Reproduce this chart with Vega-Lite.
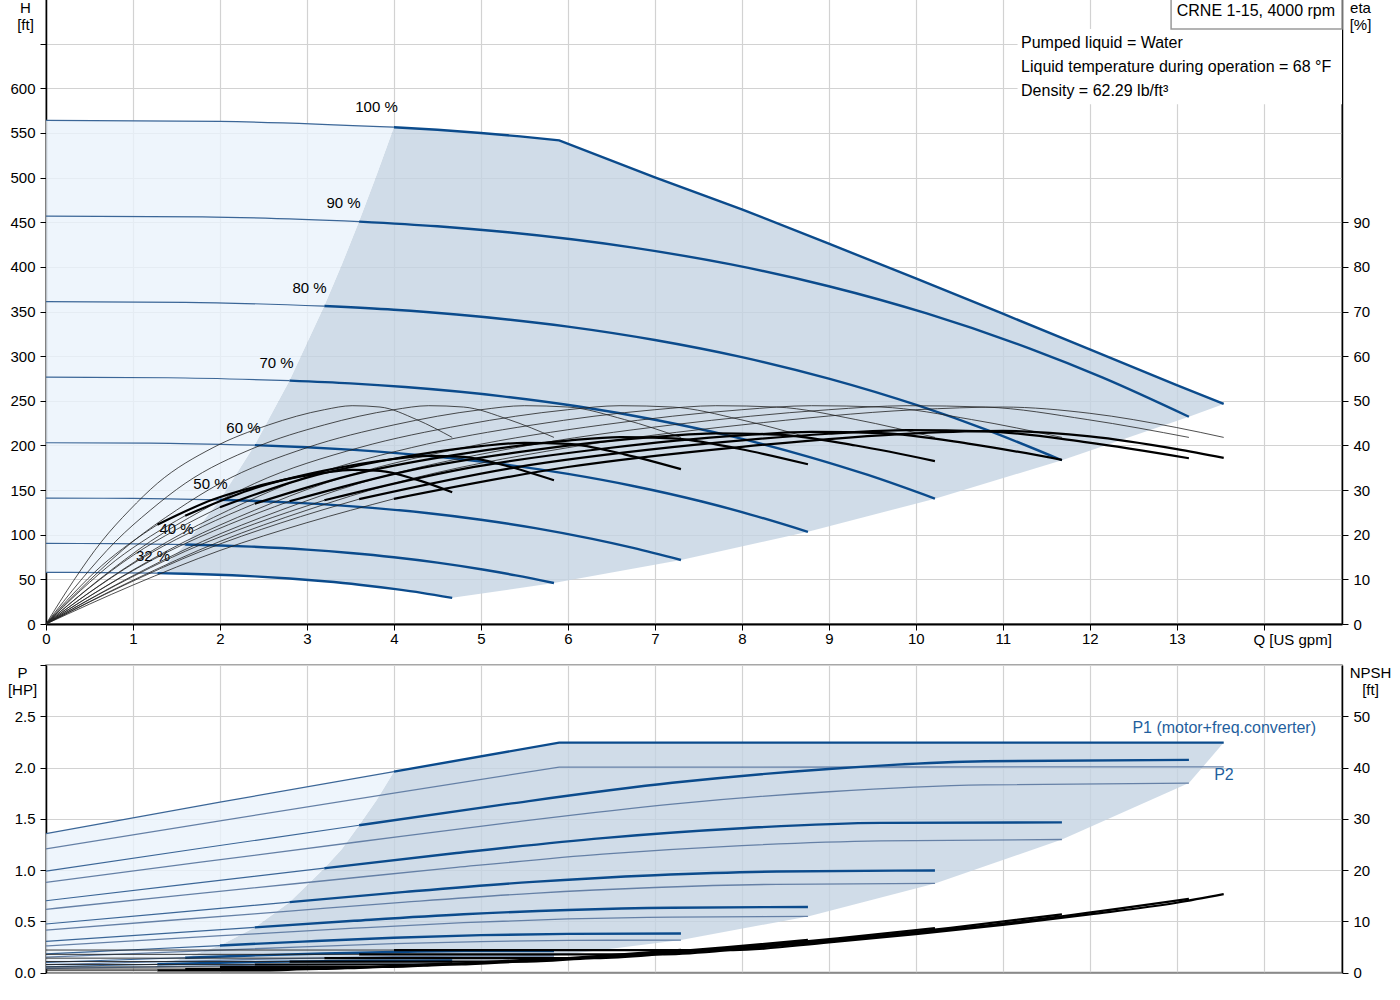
{
  "$schema": "https://vega.github.io/schema/vega-lite/v6.json",
  "autosize": {"type": "pad"},
  "padding": {"left": 6, "top": -3, "right": 5, "bottom": 5},
  "spacing": 41,
  "bounds": "flush",
  "config": {
    "font": "Liberation Sans",
    "view": {"stroke": "#8a8a8a", "strokeWidth": 1.5},
    "axis": {
      "labelFont": "Liberation Sans", "labelFontSize": 15, "labelColor": "#000",
      "titleFont": "Liberation Sans", "titleFontSize": 15, "titleFontWeight": "normal", "titleColor": "#000",
      "gridColor": "#d2d2d2", "gridWidth": 1.2, "tickColor": "#000", "domainColor": "#000",
      "tickSize": 6, "labelPadding": 5, "domainWidth": 1.5
    },
    "text": {"font": "Liberation Sans", "fontSize": 15}
  },
  "datasets": {
    "hd": [
      {"Q": 1.29, "H": 57.9, "H2": 57.9}, {"Q": 1.6, "H": 89.1, "H2": 56.3}, {"Q": 2.0, "H": 139.2, "H2": 55.1},
      {"Q": 2.4, "H": 200.4, "H2": 53.3}, {"Q": 2.8, "H": 272.8, "H2": 50.9}, {"Q": 3.2, "H": 356.4, "H2": 47.8},
      {"Q": 3.4, "H": 402.3, "H2": 46.0}, {"Q": 3.6, "H": 451.0, "H2": 44.0}, {"Q": 3.8, "H": 502.5, "H2": 41.7},
      {"Q": 4.0, "H": 556.4, "H2": 39.3}, {"Q": 4.67, "H": 552.3, "H2": 29.3}, {"Q": 5.84, "H": 542.2, "H2": 45.9},
      {"Q": 5.9, "H": 541.6, "H2": 47.0}, {"Q": 7.3, "H": 489.6, "H2": 71.7}, {"Q": 8.76, "H": 435.2, "H2": 103.2},
      {"Q": 10.22, "H": 378.3, "H2": 140.4}, {"Q": 11.68, "H": 320.3, "H2": 183.4}, {"Q": 13.14, "H": 262.1, "H2": 232.1},
      {"Q": 13.54, "H": 246.5, "H2": 246.5}
    ],
    "hl": [
      {"Q": 0, "H": 564, "H2": 57.8}, {"Q": 0.64, "H": 563.9, "H2": 57.6}, {"Q": 1.29, "H": 563.7, "H2": 57.9},
      {"Q": 1.6, "H": 563.4, "H2": 89.1}, {"Q": 2.0, "H": 562.9, "H2": 139.2}, {"Q": 2.4, "H": 562.2, "H2": 200.4},
      {"Q": 2.8, "H": 561.2, "H2": 272.8}, {"Q": 3.2, "H": 559.9, "H2": 356.4}, {"Q": 3.4, "H": 559.2, "H2": 402.3},
      {"Q": 3.6, "H": 558.3, "H2": 451.0}, {"Q": 3.8, "H": 557.4, "H2": 502.5}, {"Q": 4.0, "H": 556.4, "H2": 556.4}
    ],
    "hc": [
      {"s": "100", "p": "a", "Q": 0, "H": 564}, {"s": "100", "p": "a", "Q": 2, "H": 562.9}, {"s": "100", "p": "a", "Q": 4, "H": 556.4},
      {"s": "100", "p": "b", "Q": 4, "H": 556.4}, {"s": "100", "p": "b", "Q": 4.5, "H": 553.5}, {"s": "100", "p": "b", "Q": 5, "H": 549.9},
      {"s": "100", "p": "b", "Q": 5.45, "H": 546.1}, {"s": "100", "p": "b", "Q": 5.9, "H": 541.6},
      {"s": "100", "p": "b", "Q": 7, "H": 500.3}, {"s": "100", "p": "b", "Q": 8, "H": 464.5}, {"s": "100", "p": "b", "Q": 9, "H": 426},
      {"s": "100", "p": "b", "Q": 10, "H": 387}, {"s": "100", "p": "b", "Q": 11, "H": 347.5}, {"s": "100", "p": "b", "Q": 12, "H": 307.5},
      {"s": "100", "p": "b", "Q": 13, "H": 267.5}, {"s": "100", "p": "b", "Q": 13.54, "H": 246.5},
      {"s": "90", "p": "a", "Q": 0, "H": 456.8}, {"s": "90", "p": "a", "Q": 1.8, "H": 456.0}, {"s": "90", "p": "a", "Q": 3.6, "H": 450.7},
      {"s": "90", "p": "b", "Q": 3.6, "H": 450.7}, {"s": "90", "p": "b", "Q": 4.5, "H": 445.4}, {"s": "90", "p": "b", "Q": 5.31, "H": 438.7},
      {"s": "90", "p": "b", "Q": 6.75, "H": 421.5}, {"s": "90", "p": "b", "Q": 7.875, "H": 402.7}, {"s": "90", "p": "b", "Q": 9, "H": 378.3},
      {"s": "90", "p": "b", "Q": 10.125, "H": 347.8}, {"s": "90", "p": "b", "Q": 11.304, "H": 308.7}, {"s": "90", "p": "b", "Q": 12.15, "H": 275.9},
      {"s": "90", "p": "b", "Q": 13.14, "H": 232.1},
      {"s": "80", "p": "a", "Q": 0, "H": 361}, {"s": "80", "p": "a", "Q": 1.6, "H": 360.3}, {"s": "80", "p": "a", "Q": 3.2, "H": 356.1},
      {"s": "80", "p": "b", "Q": 3.2, "H": 356.1}, {"s": "80", "p": "b", "Q": 4, "H": 351.9}, {"s": "80", "p": "b", "Q": 4.72, "H": 346.6},
      {"s": "80", "p": "b", "Q": 6, "H": 333.1}, {"s": "80", "p": "b", "Q": 7, "H": 318.1}, {"s": "80", "p": "b", "Q": 8, "H": 298.9},
      {"s": "80", "p": "b", "Q": 9, "H": 274.8}, {"s": "80", "p": "b", "Q": 10.05, "H": 243.9}, {"s": "80", "p": "b", "Q": 10.8, "H": 218.0},
      {"s": "80", "p": "b", "Q": 11.68, "H": 183.4},
      {"s": "70", "p": "a", "Q": 0, "H": 276.4}, {"s": "70", "p": "a", "Q": 1.4, "H": 275.8}, {"s": "70", "p": "a", "Q": 2.8, "H": 272.6},
      {"s": "70", "p": "b", "Q": 2.8, "H": 272.6}, {"s": "70", "p": "b", "Q": 3.5, "H": 269.5}, {"s": "70", "p": "b", "Q": 4.13, "H": 265.4},
      {"s": "70", "p": "b", "Q": 5.25, "H": 255.0}, {"s": "70", "p": "b", "Q": 6.125, "H": 243.6}, {"s": "70", "p": "b", "Q": 7, "H": 228.8},
      {"s": "70", "p": "b", "Q": 7.875, "H": 210.4}, {"s": "70", "p": "b", "Q": 8.79, "H": 186.7}, {"s": "70", "p": "b", "Q": 9.45, "H": 166.9},
      {"s": "70", "p": "b", "Q": 10.22, "H": 140.4},
      {"s": "60", "p": "a", "Q": 0, "H": 203}, {"s": "60", "p": "a", "Q": 1.2, "H": 202.6}, {"s": "60", "p": "a", "Q": 2.4, "H": 200.3},
      {"s": "60", "p": "b", "Q": 2.4, "H": 200.3}, {"s": "60", "p": "b", "Q": 3, "H": 198.0}, {"s": "60", "p": "b", "Q": 3.54, "H": 195.0},
      {"s": "60", "p": "b", "Q": 4.5, "H": 187.3}, {"s": "60", "p": "b", "Q": 5.25, "H": 179.0}, {"s": "60", "p": "b", "Q": 6, "H": 168.1},
      {"s": "60", "p": "b", "Q": 6.75, "H": 154.6}, {"s": "60", "p": "b", "Q": 7.54, "H": 137.2}, {"s": "60", "p": "b", "Q": 8.1, "H": 122.6},
      {"s": "60", "p": "b", "Q": 8.76, "H": 103.2},
      {"s": "50", "p": "a", "Q": 0, "H": 141}, {"s": "50", "p": "a", "Q": 1, "H": 140.7}, {"s": "50", "p": "a", "Q": 2, "H": 139.1},
      {"s": "50", "p": "b", "Q": 2, "H": 139.1}, {"s": "50", "p": "b", "Q": 2.5, "H": 137.5}, {"s": "50", "p": "b", "Q": 2.95, "H": 135.4},
      {"s": "50", "p": "b", "Q": 3.75, "H": 130.1}, {"s": "50", "p": "b", "Q": 4.375, "H": 124.3}, {"s": "50", "p": "b", "Q": 5, "H": 116.8},
      {"s": "50", "p": "b", "Q": 5.625, "H": 107.4}, {"s": "50", "p": "b", "Q": 6.28, "H": 95.3}, {"s": "50", "p": "b", "Q": 6.75, "H": 85.2},
      {"s": "50", "p": "b", "Q": 7.3, "H": 71.7},
      {"s": "40", "p": "a", "Q": 0, "H": 90.2}, {"s": "40", "p": "a", "Q": 0.8, "H": 90.1}, {"s": "40", "p": "a", "Q": 1.6, "H": 89.0},
      {"s": "40", "p": "b", "Q": 1.6, "H": 89.0}, {"s": "40", "p": "b", "Q": 2, "H": 88.0}, {"s": "40", "p": "b", "Q": 2.36, "H": 86.7},
      {"s": "40", "p": "b", "Q": 3, "H": 83.3}, {"s": "40", "p": "b", "Q": 3.5, "H": 79.5}, {"s": "40", "p": "b", "Q": 4, "H": 74.7},
      {"s": "40", "p": "b", "Q": 4.5, "H": 68.7}, {"s": "40", "p": "b", "Q": 5.02, "H": 61.0}, {"s": "40", "p": "b", "Q": 5.4, "H": 54.5},
      {"s": "40", "p": "b", "Q": 5.84, "H": 45.9},
      {"s": "32", "p": "a", "Q": 0, "H": 57.8}, {"s": "32", "p": "a", "Q": 0.64, "H": 57.6}, {"s": "32", "p": "a", "Q": 1.28, "H": 57.0},
      {"s": "32", "p": "b", "Q": 1.28, "H": 57.0}, {"s": "32", "p": "b", "Q": 1.6, "H": 56.3}, {"s": "32", "p": "b", "Q": 1.89, "H": 55.5},
      {"s": "32", "p": "b", "Q": 2.4, "H": 53.3}, {"s": "32", "p": "b", "Q": 2.8, "H": 50.9}, {"s": "32", "p": "b", "Q": 3.2, "H": 47.8},
      {"s": "32", "p": "b", "Q": 3.6, "H": 44.0}, {"s": "32", "p": "b", "Q": 4.02, "H": 39.0}, {"s": "32", "p": "b", "Q": 4.32, "H": 34.9},
      {"s": "32", "p": "b", "Q": 4.67, "H": 29.3}
    ],
    "ep": [
      {"s": "100", "Q": 0, "e": 0}, {"s": "100", "Q": 1, "e": 9.8}, {"s": "100", "Q": 2, "e": 18.5}, {"s": "100", "Q": 3, "e": 25.5},
      {"s": "100", "Q": 4, "e": 31.5}, {"s": "100", "Q": 6, "e": 39.5}, {"s": "100", "Q": 8, "e": 44.6}, {"s": "100", "Q": 10, "e": 48},
      {"s": "100", "Q": 11, "e": 48.6}, {"s": "100", "Q": 12, "e": 47.2}, {"s": "100", "Q": 13, "e": 44}, {"s": "100", "Q": 13.54, "e": 41.8},
      {"s": "90", "Q": 0, "e": 0}, {"s": "90", "Q": 0.9, "e": 9.8}, {"s": "90", "Q": 1.8, "e": 18.5}, {"s": "90", "Q": 2.7, "e": 25.5},
      {"s": "90", "Q": 3.6, "e": 31.5}, {"s": "90", "Q": 5.4, "e": 39.5}, {"s": "90", "Q": 7.2, "e": 44.6}, {"s": "90", "Q": 9, "e": 48},
      {"s": "90", "Q": 9.9, "e": 48.9}, {"s": "90", "Q": 10.8, "e": 48.6}, {"s": "90", "Q": 11.97, "e": 45.8}, {"s": "90", "Q": 13.14, "e": 41.8},
      {"s": "80", "Q": 0, "e": 0}, {"s": "80", "Q": 0.8, "e": 9.8}, {"s": "80", "Q": 1.6, "e": 18.5}, {"s": "80", "Q": 2.4, "e": 25.5},
      {"s": "80", "Q": 3.2, "e": 31.5}, {"s": "80", "Q": 4.8, "e": 39.5}, {"s": "80", "Q": 6.4, "e": 44.6}, {"s": "80", "Q": 8, "e": 48},
      {"s": "80", "Q": 8.8, "e": 48.9}, {"s": "80", "Q": 9.6, "e": 48.6}, {"s": "80", "Q": 10.64, "e": 45.8}, {"s": "80", "Q": 11.68, "e": 41.8},
      {"s": "70", "Q": 0, "e": 0}, {"s": "70", "Q": 0.7, "e": 9.8}, {"s": "70", "Q": 1.4, "e": 18.5}, {"s": "70", "Q": 2.1, "e": 25.5},
      {"s": "70", "Q": 2.8, "e": 31.5}, {"s": "70", "Q": 4.2, "e": 39.5}, {"s": "70", "Q": 5.6, "e": 44.6}, {"s": "70", "Q": 7, "e": 48},
      {"s": "70", "Q": 7.7, "e": 48.9}, {"s": "70", "Q": 8.4, "e": 48.6}, {"s": "70", "Q": 9.31, "e": 45.8}, {"s": "70", "Q": 10.22, "e": 41.8},
      {"s": "60", "Q": 0, "e": 0}, {"s": "60", "Q": 0.6, "e": 9.8}, {"s": "60", "Q": 1.2, "e": 18.5}, {"s": "60", "Q": 1.8, "e": 25.5},
      {"s": "60", "Q": 2.4, "e": 31.5}, {"s": "60", "Q": 3.6, "e": 39.5}, {"s": "60", "Q": 4.8, "e": 44.6}, {"s": "60", "Q": 6, "e": 48},
      {"s": "60", "Q": 6.6, "e": 48.9}, {"s": "60", "Q": 7.2, "e": 48.6}, {"s": "60", "Q": 7.98, "e": 45.8}, {"s": "60", "Q": 8.76, "e": 41.8},
      {"s": "50", "Q": 0, "e": 0}, {"s": "50", "Q": 0.5, "e": 9.8}, {"s": "50", "Q": 1, "e": 18.5}, {"s": "50", "Q": 1.5, "e": 25.5},
      {"s": "50", "Q": 2, "e": 31.5}, {"s": "50", "Q": 3, "e": 39.5}, {"s": "50", "Q": 4, "e": 44.6}, {"s": "50", "Q": 5, "e": 48},
      {"s": "50", "Q": 5.5, "e": 48.9}, {"s": "50", "Q": 6, "e": 48.6}, {"s": "50", "Q": 6.65, "e": 45.8}, {"s": "50", "Q": 7.3, "e": 41.8},
      {"s": "40", "Q": 0, "e": 0}, {"s": "40", "Q": 0.4, "e": 9.8}, {"s": "40", "Q": 0.8, "e": 18.5}, {"s": "40", "Q": 1.2, "e": 25.5},
      {"s": "40", "Q": 1.6, "e": 31.5}, {"s": "40", "Q": 2.4, "e": 39.5}, {"s": "40", "Q": 3.2, "e": 44.6}, {"s": "40", "Q": 4, "e": 48},
      {"s": "40", "Q": 4.4, "e": 48.9}, {"s": "40", "Q": 4.8, "e": 48.6}, {"s": "40", "Q": 5.32, "e": 45.8}, {"s": "40", "Q": 5.84, "e": 41.8},
      {"s": "32", "Q": 0, "e": 0}, {"s": "32", "Q": 0.32, "e": 9.8}, {"s": "32", "Q": 0.64, "e": 18.5}, {"s": "32", "Q": 0.96, "e": 25.5},
      {"s": "32", "Q": 1.28, "e": 31.5}, {"s": "32", "Q": 1.92, "e": 39.5}, {"s": "32", "Q": 2.56, "e": 44.6}, {"s": "32", "Q": 3.2, "e": 48},
      {"s": "32", "Q": 3.52, "e": 48.9}, {"s": "32", "Q": 3.84, "e": 48.6}, {"s": "32", "Q": 4.26, "e": 45.8}, {"s": "32", "Q": 4.67, "e": 41.8}
    ],
    "et": [
      {"s": "100", "p": "a", "Q": 0, "e": 0}, {"s": "100", "p": "a", "Q": 1, "e": 8.72}, {"s": "100", "p": "a", "Q": 2, "e": 16.47}, {"s": "100", "p": "a", "Q": 3, "e": 22.7}, {"s": "100", "p": "a", "Q": 4, "e": 28.04},
      {"s": "100", "p": "b", "Q": 4, "e": 28.04}, {"s": "100", "p": "b", "Q": 6, "e": 35.16}, {"s": "100", "p": "b", "Q": 8, "e": 39.69}, {"s": "100", "p": "b", "Q": 10, "e": 42.72},
      {"s": "100", "p": "b", "Q": 11, "e": 43.25}, {"s": "100", "p": "b", "Q": 12, "e": 42.01}, {"s": "100", "p": "b", "Q": 13, "e": 39.16}, {"s": "100", "p": "b", "Q": 13.54, "e": 37.2},
      {"s": "90", "p": "a", "Q": 0, "e": 0}, {"s": "90", "p": "a", "Q": 0.9, "e": 8.7}, {"s": "90", "p": "a", "Q": 1.8, "e": 16.43}, {"s": "90", "p": "a", "Q": 2.7, "e": 22.64}, {"s": "90", "p": "a", "Q": 3.6, "e": 27.97},
      {"s": "90", "p": "b", "Q": 3.6, "e": 27.97}, {"s": "90", "p": "b", "Q": 5.4, "e": 35.08}, {"s": "90", "p": "b", "Q": 7.2, "e": 39.6}, {"s": "90", "p": "b", "Q": 9, "e": 42.62},
      {"s": "90", "p": "b", "Q": 9.9, "e": 43.42}, {"s": "90", "p": "b", "Q": 10.8, "e": 43.16}, {"s": "90", "p": "b", "Q": 11.97, "e": 40.67}, {"s": "90", "p": "b", "Q": 13.14, "e": 37.12},
      {"s": "80", "p": "a", "Q": 0, "e": 0}, {"s": "80", "p": "a", "Q": 0.8, "e": 8.62}, {"s": "80", "p": "a", "Q": 1.6, "e": 16.28}, {"s": "80", "p": "a", "Q": 2.4, "e": 22.44}, {"s": "80", "p": "a", "Q": 3.2, "e": 27.72},
      {"s": "80", "p": "b", "Q": 3.2, "e": 27.72}, {"s": "80", "p": "b", "Q": 4.8, "e": 34.76}, {"s": "80", "p": "b", "Q": 6.4, "e": 39.25}, {"s": "80", "p": "b", "Q": 8, "e": 42.24},
      {"s": "80", "p": "b", "Q": 8.8, "e": 43.03}, {"s": "80", "p": "b", "Q": 9.6, "e": 42.77}, {"s": "80", "p": "b", "Q": 10.64, "e": 40.3}, {"s": "80", "p": "b", "Q": 11.68, "e": 36.78},
      {"s": "70", "p": "a", "Q": 0, "e": 0}, {"s": "70", "p": "a", "Q": 0.7, "e": 8.56}, {"s": "70", "p": "a", "Q": 1.4, "e": 16.15}, {"s": "70", "p": "a", "Q": 2.1, "e": 22.26}, {"s": "70", "p": "a", "Q": 2.8, "e": 27.5},
      {"s": "70", "p": "b", "Q": 2.8, "e": 27.5}, {"s": "70", "p": "b", "Q": 4.2, "e": 34.48}, {"s": "70", "p": "b", "Q": 5.6, "e": 38.94}, {"s": "70", "p": "b", "Q": 7, "e": 41.9},
      {"s": "70", "p": "b", "Q": 7.7, "e": 42.69}, {"s": "70", "p": "b", "Q": 8.4, "e": 42.43}, {"s": "70", "p": "b", "Q": 9.31, "e": 39.98}, {"s": "70", "p": "b", "Q": 10.22, "e": 36.49},
      {"s": "60", "p": "a", "Q": 0, "e": 0}, {"s": "60", "p": "a", "Q": 0.6, "e": 8.39}, {"s": "60", "p": "a", "Q": 1.2, "e": 15.84}, {"s": "60", "p": "a", "Q": 1.8, "e": 21.83}, {"s": "60", "p": "a", "Q": 2.4, "e": 26.96},
      {"s": "60", "p": "b", "Q": 2.4, "e": 26.96}, {"s": "60", "p": "b", "Q": 3.6, "e": 33.81}, {"s": "60", "p": "b", "Q": 4.8, "e": 38.18}, {"s": "60", "p": "b", "Q": 6, "e": 41.09},
      {"s": "60", "p": "b", "Q": 6.6, "e": 41.86}, {"s": "60", "p": "b", "Q": 7.2, "e": 41.6}, {"s": "60", "p": "b", "Q": 7.98, "e": 39.2}, {"s": "60", "p": "b", "Q": 8.76, "e": 35.78},
      {"s": "50", "p": "a", "Q": 0, "e": 0}, {"s": "50", "p": "a", "Q": 0.5, "e": 8.13}, {"s": "50", "p": "a", "Q": 1, "e": 15.36}, {"s": "50", "p": "a", "Q": 1.5, "e": 21.17}, {"s": "50", "p": "a", "Q": 2, "e": 26.15},
      {"s": "50", "p": "b", "Q": 2, "e": 26.15}, {"s": "50", "p": "b", "Q": 3, "e": 32.79}, {"s": "50", "p": "b", "Q": 4, "e": 37.02}, {"s": "50", "p": "b", "Q": 5, "e": 39.84},
      {"s": "50", "p": "b", "Q": 5.5, "e": 40.59}, {"s": "50", "p": "b", "Q": 6, "e": 40.34}, {"s": "50", "p": "b", "Q": 6.65, "e": 38.01}, {"s": "50", "p": "b", "Q": 7.3, "e": 34.69},
      {"s": "40", "p": "a", "Q": 0, "e": 0}, {"s": "40", "p": "a", "Q": 0.4, "e": 7.55}, {"s": "40", "p": "a", "Q": 0.8, "e": 14.25}, {"s": "40", "p": "a", "Q": 1.2, "e": 19.64}, {"s": "40", "p": "a", "Q": 1.6, "e": 24.26},
      {"s": "40", "p": "b", "Q": 1.6, "e": 24.26}, {"s": "40", "p": "b", "Q": 2.4, "e": 30.42}, {"s": "40", "p": "b", "Q": 3.2, "e": 34.34}, {"s": "40", "p": "b", "Q": 4, "e": 36.96},
      {"s": "40", "p": "b", "Q": 4.4, "e": 37.65}, {"s": "40", "p": "b", "Q": 4.8, "e": 37.42}, {"s": "40", "p": "b", "Q": 5.32, "e": 35.27}, {"s": "40", "p": "b", "Q": 5.84, "e": 32.19},
      {"s": "32", "p": "a", "Q": 0, "e": 0}, {"s": "32", "p": "a", "Q": 0.32, "e": 6.92}, {"s": "32", "p": "a", "Q": 0.64, "e": 13.06}, {"s": "32", "p": "a", "Q": 0.96, "e": 18.0}, {"s": "32", "p": "a", "Q": 1.28, "e": 22.24},
      {"s": "32", "p": "b", "Q": 1.28, "e": 22.24}, {"s": "32", "p": "b", "Q": 1.92, "e": 27.89}, {"s": "32", "p": "b", "Q": 2.56, "e": 31.49}, {"s": "32", "p": "b", "Q": 3.2, "e": 33.89},
      {"s": "32", "p": "b", "Q": 3.52, "e": 34.52}, {"s": "32", "p": "b", "Q": 3.84, "e": 34.31}, {"s": "32", "p": "b", "Q": 4.26, "e": 32.33}, {"s": "32", "p": "b", "Q": 4.67, "e": 29.51}
    ],
    "lab": [
      {"Q": 3.8, "H": 579, "t": "100 %"}, {"Q": 3.42, "H": 472, "t": "90 %"}, {"Q": 3.03, "H": 376, "t": "80 %"},
      {"Q": 2.65, "H": 292, "t": "70 %"}, {"Q": 2.27, "H": 219, "t": "60 %"}, {"Q": 1.89, "H": 157, "t": "50 %"},
      {"Q": 1.5, "H": 106, "t": "40 %"}, {"Q": 1.23, "H": 76, "t": "32 %"}
    ],
    "wbox": [{"Q": 11.17, "Q2": 14.9, "H": 582, "H2": 666.5}],
    "tbox": [{"Q": 12.935, "Q2": 14.9, "H": 666.5, "H2": 700}],
    "info": [
      {"Q": 11.21, "H": 650.8, "t": "Pumped liquid = Water"},
      {"Q": 11.21, "H": 623.9, "t": "Liquid temperature during operation = 68 °F"},
      {"Q": 11.21, "H": 597.0, "t": "Density = 62.29 lb/ft³"}
    ],
    "ttl": [{"Q": 13.0, "H": 686.6, "t": "CRNE 1-15, 4000 rpm"}],
    "pd": [
      {"Q": 1.28, "P": 0.081, "P2": 0.057}, {"Q": 1.6, "P": 0.145, "P2": 0.061}, {"Q": 2.0, "P": 0.264, "P2": 0.066},
      {"Q": 2.4, "P": 0.441, "P2": 0.072}, {"Q": 2.8, "P": 0.687, "P2": 0.076}, {"Q": 3.2, "P": 1.018, "P2": 0.079},
      {"Q": 3.4, "P": 1.204, "P2": 0.08}, {"Q": 3.6, "P": 1.437, "P2": 0.081}, {"Q": 3.8, "P": 1.68, "P2": 0.082},
      {"Q": 4.0, "P": 1.96, "P2": 0.082}, {"Q": 4.67, "P": 2.06, "P2": 0.083}, {"Q": 5.84, "P": 2.235, "P2": 0.162},
      {"Q": 5.9, "P": 2.243, "P2": 0.168}, {"Q": 7.3, "P": 2.243, "P2": 0.317}, {"Q": 8.76, "P": 2.243, "P2": 0.548},
      {"Q": 10.22, "P": 2.243, "P2": 0.87}, {"Q": 11.68, "P": 2.243, "P2": 1.298}, {"Q": 13.14, "P": 2.243, "P2": 1.848},
      {"Q": 13.54, "P": 2.243, "P2": 2.243}
    ],
    "pl": [
      {"Q": 0, "P": 1.355, "P2": 0.04}, {"Q": 0.64, "P": 1.453, "P2": 0.049}, {"Q": 1.28, "P": 1.547, "P2": 0.081},
      {"Q": 1.6, "P": 1.595, "P2": 0.145}, {"Q": 2.0, "P": 1.662, "P2": 0.264}, {"Q": 2.4, "P": 1.722, "P2": 0.441},
      {"Q": 2.8, "P": 1.782, "P2": 0.687}, {"Q": 3.2, "P": 1.841, "P2": 1.018}, {"Q": 3.4, "P": 1.871, "P2": 1.204},
      {"Q": 3.6, "P": 1.901, "P2": 1.437}, {"Q": 3.8, "P": 1.93, "P2": 1.68}, {"Q": 4.0, "P": 1.96, "P2": 1.96}
    ],
    "p1": [
      {"s": "100", "p": "a", "Q": 0, "P": 1.355}, {"s": "100", "p": "a", "Q": 2, "P": 1.662}, {"s": "100", "p": "a", "Q": 4, "P": 1.96},
      {"s": "100", "p": "b", "Q": 4, "P": 1.96}, {"s": "100", "p": "b", "Q": 5.9, "P": 2.243}, {"s": "100", "p": "b", "Q": 8, "P": 2.243},
      {"s": "100", "p": "b", "Q": 10, "P": 2.243}, {"s": "100", "p": "b", "Q": 12, "P": 2.243}, {"s": "100", "p": "b", "Q": 13.54, "P": 2.243},
      {"s": "90", "p": "a", "Q": 0, "P": 0.99}, {"s": "90", "p": "a", "Q": 1.8, "P": 1.215}, {"s": "90", "p": "a", "Q": 3.6, "P": 1.437},
      {"s": "90", "p": "b", "Q": 3.6, "P": 1.437}, {"s": "90", "p": "b", "Q": 5.31, "P": 1.645}, {"s": "90", "p": "b", "Q": 7.2, "P": 1.851},
      {"s": "90", "p": "b", "Q": 9, "P": 1.986}, {"s": "90", "p": "b", "Q": 10.8, "P": 2.061}, {"s": "90", "p": "b", "Q": 13.14, "P": 2.075},
      {"s": "80", "p": "a", "Q": 0, "P": 0.701}, {"s": "80", "p": "a", "Q": 1.6, "P": 0.861}, {"s": "80", "p": "a", "Q": 3.2, "P": 1.018},
      {"s": "80", "p": "b", "Q": 3.2, "P": 1.018}, {"s": "80", "p": "b", "Q": 4.72, "P": 1.166}, {"s": "80", "p": "b", "Q": 6.4, "P": 1.312},
      {"s": "80", "p": "b", "Q": 8, "P": 1.408}, {"s": "80", "p": "b", "Q": 9.6, "P": 1.46}, {"s": "80", "p": "b", "Q": 11.68, "P": 1.465},
      {"s": "70", "p": "a", "Q": 0, "P": 0.474}, {"s": "70", "p": "a", "Q": 1.4, "P": 0.581}, {"s": "70", "p": "a", "Q": 2.8, "P": 0.687},
      {"s": "70", "p": "b", "Q": 2.8, "P": 0.687}, {"s": "70", "p": "b", "Q": 4.13, "P": 0.787}, {"s": "70", "p": "b", "Q": 5.6, "P": 0.885},
      {"s": "70", "p": "b", "Q": 7, "P": 0.95}, {"s": "70", "p": "b", "Q": 8.4, "P": 0.986}, {"s": "70", "p": "b", "Q": 10.22, "P": 0.996},
      {"s": "60", "p": "a", "Q": 0, "P": 0.304}, {"s": "60", "p": "a", "Q": 1.2, "P": 0.373}, {"s": "60", "p": "a", "Q": 2.4, "P": 0.441},
      {"s": "60", "p": "b", "Q": 2.4, "P": 0.441}, {"s": "60", "p": "b", "Q": 3.54, "P": 0.505}, {"s": "60", "p": "b", "Q": 4.8, "P": 0.569},
      {"s": "60", "p": "b", "Q": 6, "P": 0.611}, {"s": "60", "p": "b", "Q": 7.2, "P": 0.633}, {"s": "60", "p": "b", "Q": 8.76, "P": 0.64},
      {"s": "50", "p": "a", "Q": 0, "P": 0.182}, {"s": "50", "p": "a", "Q": 1, "P": 0.223}, {"s": "50", "p": "a", "Q": 2, "P": 0.264},
      {"s": "50", "p": "b", "Q": 2, "P": 0.264}, {"s": "50", "p": "b", "Q": 2.95, "P": 0.302}, {"s": "50", "p": "b", "Q": 4, "P": 0.34},
      {"s": "50", "p": "b", "Q": 5, "P": 0.365}, {"s": "50", "p": "b", "Q": 6, "P": 0.378}, {"s": "50", "p": "b", "Q": 7.3, "P": 0.382},
      {"s": "40", "p": "a", "Q": 0, "P": 0.1}, {"s": "40", "p": "a", "Q": 0.8, "P": 0.123}, {"s": "40", "p": "a", "Q": 1.6, "P": 0.145},
      {"s": "40", "p": "b", "Q": 1.6, "P": 0.145}, {"s": "40", "p": "b", "Q": 2.36, "P": 0.167}, {"s": "40", "p": "b", "Q": 3.2, "P": 0.187},
      {"s": "40", "p": "b", "Q": 4, "P": 0.201}, {"s": "40", "p": "b", "Q": 4.8, "P": 0.209}, {"s": "40", "p": "b", "Q": 5.84, "P": 0.21},
      {"s": "32", "p": "a", "Q": 0, "P": 0.056}, {"s": "32", "p": "a", "Q": 0.64, "P": 0.069}, {"s": "32", "p": "a", "Q": 1.28, "P": 0.081},
      {"s": "32", "p": "b", "Q": 1.28, "P": 0.081}, {"s": "32", "p": "b", "Q": 1.89, "P": 0.093}, {"s": "32", "p": "b", "Q": 2.56, "P": 0.105},
      {"s": "32", "p": "b", "Q": 3.2, "P": 0.112}, {"s": "32", "p": "b", "Q": 3.84, "P": 0.116}, {"s": "32", "p": "b", "Q": 4.67, "P": 0.118}
    ],
    "p2": [
      {"s": "100", "Q": 0, "P": 1.206}, {"s": "100", "Q": 2, "P": 1.48}, {"s": "100", "Q": 4, "P": 1.75}, {"s": "100", "Q": 5.9, "P": 2.004},
      {"s": "100", "Q": 8, "P": 2.004}, {"s": "100", "Q": 10, "P": 2.005}, {"s": "100", "Q": 12, "P": 2.006}, {"s": "100", "Q": 13.54, "P": 2.007},
      {"s": "90", "Q": 0, "P": 0.879}, {"s": "90", "Q": 1.8, "P": 1.079}, {"s": "90", "Q": 3.6, "P": 1.276}, {"s": "90", "Q": 5.31, "P": 1.461},
      {"s": "90", "Q": 7.2, "P": 1.644}, {"s": "90", "Q": 9, "P": 1.764}, {"s": "90", "Q": 10.8, "P": 1.83}, {"s": "90", "Q": 13.14, "P": 1.848},
      {"s": "80", "Q": 0, "P": 0.617}, {"s": "80", "Q": 1.6, "P": 0.758}, {"s": "80", "Q": 3.2, "P": 0.896}, {"s": "80", "Q": 4.72, "P": 1.026},
      {"s": "80", "Q": 6.4, "P": 1.155}, {"s": "80", "Q": 8, "P": 1.239}, {"s": "80", "Q": 9.6, "P": 1.285}, {"s": "80", "Q": 11.68, "P": 1.298},
      {"s": "70", "Q": 0, "P": 0.414}, {"s": "70", "Q": 1.4, "P": 0.508}, {"s": "70", "Q": 2.8, "P": 0.6}, {"s": "70", "Q": 4.13, "P": 0.687},
      {"s": "70", "Q": 5.6, "P": 0.773}, {"s": "70", "Q": 7, "P": 0.83}, {"s": "70", "Q": 8.4, "P": 0.861}, {"s": "70", "Q": 10.22, "P": 0.87},
      {"s": "60", "Q": 0, "P": 0.26}, {"s": "60", "Q": 1.2, "P": 0.32}, {"s": "60", "Q": 2.4, "P": 0.378}, {"s": "60", "Q": 3.54, "P": 0.433},
      {"s": "60", "Q": 4.8, "P": 0.487}, {"s": "60", "Q": 6, "P": 0.523}, {"s": "60", "Q": 7.2, "P": 0.542}, {"s": "60", "Q": 8.76, "P": 0.548},
      {"s": "50", "Q": 0, "P": 0.151}, {"s": "50", "Q": 1, "P": 0.185}, {"s": "50", "Q": 2, "P": 0.219}, {"s": "50", "Q": 2.95, "P": 0.251},
      {"s": "50", "Q": 4, "P": 0.282}, {"s": "50", "Q": 5, "P": 0.303}, {"s": "50", "Q": 6, "P": 0.314}, {"s": "50", "Q": 7.3, "P": 0.317},
      {"s": "40", "Q": 0, "P": 0.077}, {"s": "40", "Q": 0.8, "P": 0.095}, {"s": "40", "Q": 1.6, "P": 0.112}, {"s": "40", "Q": 2.36, "P": 0.128},
      {"s": "40", "Q": 3.2, "P": 0.144}, {"s": "40", "Q": 4, "P": 0.155}, {"s": "40", "Q": 4.8, "P": 0.161}, {"s": "40", "Q": 5.84, "P": 0.162},
      {"s": "32", "Q": 0, "P": 0.04}, {"s": "32", "Q": 0.64, "P": 0.049}, {"s": "32", "Q": 1.28, "P": 0.057}, {"s": "32", "Q": 1.89, "P": 0.066},
      {"s": "32", "Q": 2.56, "P": 0.074}, {"s": "32", "Q": 3.2, "P": 0.079}, {"s": "32", "Q": 3.84, "P": 0.082}, {"s": "32", "Q": 4.67, "P": 0.083}
    ],
    "np": [
      {"s": "100", "p": "a", "Q": 0, "N": 4.4}, {"s": "100", "p": "a", "Q": 4, "N": 4.4},
      {"s": "100", "p": "b", "Q": 4, "N": 4.4}, {"s": "100", "p": "b", "Q": 7.9, "N": 4.4}, {"s": "100", "p": "b", "Q": 9, "N": 5.89}, {"s": "100", "p": "b", "Q": 10, "N": 7.49},
      {"s": "100", "p": "b", "Q": 11, "N": 9.31}, {"s": "100", "p": "b", "Q": 12, "N": 11.35}, {"s": "100", "p": "b", "Q": 13, "N": 13.63}, {"s": "100", "p": "b", "Q": 13.54, "N": 15.3},
      {"s": "90", "p": "a", "Q": 0, "N": 3.56}, {"s": "90", "p": "a", "Q": 3.6, "N": 3.56},
      {"s": "90", "p": "b", "Q": 3.6, "N": 3.56}, {"s": "90", "p": "b", "Q": 7.11, "N": 3.56}, {"s": "90", "p": "b", "Q": 8.1, "N": 4.77}, {"s": "90", "p": "b", "Q": 9, "N": 6.07},
      {"s": "90", "p": "b", "Q": 9.9, "N": 7.54}, {"s": "90", "p": "b", "Q": 10.8, "N": 9.19}, {"s": "90", "p": "b", "Q": 11.7, "N": 11.04}, {"s": "90", "p": "b", "Q": 13.14, "N": 14.38},
      {"s": "80", "p": "a", "Q": 0, "N": 2.82}, {"s": "80", "p": "a", "Q": 3.2, "N": 2.82},
      {"s": "80", "p": "b", "Q": 3.2, "N": 2.82}, {"s": "80", "p": "b", "Q": 6.32, "N": 2.82}, {"s": "80", "p": "b", "Q": 7.2, "N": 3.77}, {"s": "80", "p": "b", "Q": 8, "N": 4.79},
      {"s": "80", "p": "b", "Q": 8.8, "N": 5.96}, {"s": "80", "p": "b", "Q": 9.6, "N": 7.26}, {"s": "80", "p": "b", "Q": 10.4, "N": 8.72}, {"s": "80", "p": "b", "Q": 11.68, "N": 11.36},
      {"s": "70", "p": "a", "Q": 0, "N": 2.16}, {"s": "70", "p": "a", "Q": 2.8, "N": 2.16},
      {"s": "70", "p": "b", "Q": 2.8, "N": 2.16}, {"s": "70", "p": "b", "Q": 5.53, "N": 2.16}, {"s": "70", "p": "b", "Q": 6.3, "N": 2.89}, {"s": "70", "p": "b", "Q": 7, "N": 3.67},
      {"s": "70", "p": "b", "Q": 7.7, "N": 4.56}, {"s": "70", "p": "b", "Q": 8.4, "N": 5.56}, {"s": "70", "p": "b", "Q": 9.1, "N": 6.68}, {"s": "70", "p": "b", "Q": 10.22, "N": 8.7},
      {"s": "60", "p": "a", "Q": 0, "N": 1.58}, {"s": "60", "p": "a", "Q": 2.4, "N": 1.58},
      {"s": "60", "p": "b", "Q": 2.4, "N": 1.58}, {"s": "60", "p": "b", "Q": 4.74, "N": 1.58}, {"s": "60", "p": "b", "Q": 5.4, "N": 2.12}, {"s": "60", "p": "b", "Q": 6, "N": 2.7},
      {"s": "60", "p": "b", "Q": 6.6, "N": 3.35}, {"s": "60", "p": "b", "Q": 7.2, "N": 4.09}, {"s": "60", "p": "b", "Q": 7.8, "N": 4.91}, {"s": "60", "p": "b", "Q": 8.76, "N": 6.39},
      {"s": "50", "p": "a", "Q": 0, "N": 1.1}, {"s": "50", "p": "a", "Q": 2, "N": 1.1},
      {"s": "50", "p": "b", "Q": 2, "N": 1.1}, {"s": "50", "p": "b", "Q": 3.95, "N": 1.1}, {"s": "50", "p": "b", "Q": 4.5, "N": 1.47}, {"s": "50", "p": "b", "Q": 5, "N": 1.87},
      {"s": "50", "p": "b", "Q": 5.5, "N": 2.33}, {"s": "50", "p": "b", "Q": 6, "N": 2.84}, {"s": "50", "p": "b", "Q": 6.5, "N": 3.41}, {"s": "50", "p": "b", "Q": 7.3, "N": 4.44},
      {"s": "40", "p": "a", "Q": 0, "N": 0.7}, {"s": "40", "p": "a", "Q": 1.6, "N": 0.7},
      {"s": "40", "p": "b", "Q": 1.6, "N": 0.7}, {"s": "40", "p": "b", "Q": 3.16, "N": 0.7}, {"s": "40", "p": "b", "Q": 3.6, "N": 0.94}, {"s": "40", "p": "b", "Q": 4, "N": 1.2},
      {"s": "40", "p": "b", "Q": 4.4, "N": 1.49}, {"s": "40", "p": "b", "Q": 4.8, "N": 1.82}, {"s": "40", "p": "b", "Q": 5.2, "N": 2.18}, {"s": "40", "p": "b", "Q": 5.84, "N": 2.84},
      {"s": "32", "p": "a", "Q": 0, "N": 0.45}, {"s": "32", "p": "a", "Q": 1.28, "N": 0.45},
      {"s": "32", "p": "b", "Q": 1.28, "N": 0.45}, {"s": "32", "p": "b", "Q": 2.53, "N": 0.45}, {"s": "32", "p": "b", "Q": 2.88, "N": 0.6}, {"s": "32", "p": "b", "Q": 3.2, "N": 0.77},
      {"s": "32", "p": "b", "Q": 3.52, "N": 0.95}, {"s": "32", "p": "b", "Q": 3.84, "N": 1.16}, {"s": "32", "p": "b", "Q": 4.16, "N": 1.4}, {"s": "32", "p": "b", "Q": 4.67, "N": 1.82}
    ],
    "plab": [
      {"Q": 12.49, "P": 2.386, "t": "P1 (motor+freq.converter)"},
      {"Q": 13.43, "P": 1.929, "t": "P2"}
    ]
  },
  "vconcat": [
    {
      "width": 1296,
      "height": 625,
      "encoding": {
        "x": {
          "field": "Q", "type": "quantitative",
          "scale": {"domain": [0, 14.9], "nice": false, "zero": false},
          "axis": {
            "values": [0, 1, 2, 3, 4, 5, 6, 7, 8, 9, 10, 11, 12, 13, 14],
            "labelExpr": "datum.value == 14 ? '' : datum.label",
            "labelFlush": false, "labelPadding": 1, "domainWidth": 2,
            "title": "Q [US gpm]", "titleX": 1207, "titleY": 20,
            "titleAlign": "left", "titleBaseline": "alphabetic"
          }
        }
      },
      "layer": [
        {
          "encoding": {
            "y": {
              "field": "H", "type": "quantitative",
              "scale": {"domain": [0, 700], "nice": false},
              "axis": {
                "values": [0, 50, 100, 150, 200, 250, 300, 350, 400, 450, 500, 550, 600, 650],
                "labelExpr": "datum.value > 600 ? '' : datum.label",
                "title": ["H", "[ft]"], "titleAngle": 0, "titleX": -21, "titleY": 1,
                "titleAlign": "center", "titleBaseline": "top", "titleLineHeight": 17
              }
            }
          },
          "layer": [
            {"data": {"name": "hd"}, "mark": {"type": "area", "color": "#c4d3e2", "opacity": 0.8}, "encoding": {"y2": {"field": "H2"}}},
            {"data": {"name": "hl"}, "mark": {"type": "area", "color": "#eaf3fb", "opacity": 0.8}, "encoding": {"y2": {"field": "H2"}}},
            {"data": {"name": "hc"}, "transform": [{"filter": "datum.p == 'a'"}], "mark": {"type": "line", "color": "#3b6697", "strokeWidth": 1.2, "interpolate": "monotone"}, "encoding": {"detail": {"field": "s"}}},
            {"data": {"name": "hc"}, "transform": [{"filter": "datum.p == 'b' && datum.s != '100'"}], "mark": {"type": "line", "color": "#0b4b8c", "strokeWidth": 2.4, "interpolate": "monotone"}, "encoding": {"detail": {"field": "s"}}},
            {"data": {"name": "hc"}, "transform": [{"filter": "datum.p == 'b' && datum.s == '100'"}], "mark": {"type": "line", "color": "#0b4b8c", "strokeWidth": 2.4, "interpolate": "linear"}},
            {"data": {"name": "lab"}, "mark": {"type": "text", "color": "#000", "align": "center", "baseline": "middle"}, "encoding": {"text": {"field": "t"}}},
            {"data": {"name": "wbox"}, "mark": {"type": "rect", "fill": "#ffffff"}, "encoding": {"x2": {"field": "Q2"}, "y2": {"field": "H2"}}},
            {"data": {"name": "tbox"}, "mark": {"type": "rect", "fill": "#ffffff", "stroke": "#9a9a9a", "strokeWidth": 1.5}, "encoding": {"x2": {"field": "Q2"}, "y2": {"field": "H2"}}},
            {"data": {"name": "info"}, "mark": {"type": "text", "color": "#000", "align": "left", "baseline": "middle", "fontSize": 16}, "encoding": {"text": {"field": "t"}}},
            {"data": {"name": "ttl"}, "mark": {"type": "text", "color": "#000", "align": "left", "baseline": "middle", "fontSize": 16}, "encoding": {"text": {"field": "t"}}}
          ]
        },
        {
          "encoding": {
            "y": {
              "field": "e", "type": "quantitative",
              "scale": {"domain": [0, 140], "nice": false},
              "axis": {
                "orient": "right", "grid": false,
                "values": [0, 10, 20, 30, 40, 50, 60, 70, 80, 90],
                "title": ["eta", "[%]"], "titleAngle": 0, "titleX": 18, "titleY": 1,
                "titleAlign": "center", "titleBaseline": "top", "titleLineHeight": 17
              }
            }
          },
          "layer": [
            {"data": {"name": "ep"}, "mark": {"type": "line", "color": "#222", "strokeWidth": 0.8, "interpolate": "monotone"}, "encoding": {"detail": {"field": "s"}}},
            {"data": {"name": "et"}, "transform": [{"filter": "datum.p == 'a'"}], "mark": {"type": "line", "color": "#222", "strokeWidth": 0.8, "interpolate": "monotone"}, "encoding": {"detail": {"field": "s"}}},
            {"data": {"name": "et"}, "transform": [{"filter": "datum.p == 'b'"}], "mark": {"type": "line", "color": "#000", "strokeWidth": 2.2, "interpolate": "monotone"}, "encoding": {"detail": {"field": "s"}}}
          ]
        }
      ],
      "resolve": {"scale": {"y": "independent"}, "axis": {"y": "independent"}}
    },
    {
      "width": 1296,
      "height": 307.6,
      "encoding": {
        "x": {
          "field": "Q", "type": "quantitative",
          "scale": {"domain": [0, 14.9], "nice": false, "zero": false},
          "axis": {
            "values": [0, 1, 2, 3, 4, 5, 6, 7, 8, 9, 10, 11, 12, 13, 14],
            "labels": false, "ticks": false, "title": null, "domainColor": "#8a8a8a"
          }
        }
      },
      "layer": [
        {
          "encoding": {
            "y": {
              "field": "P", "type": "quantitative",
              "scale": {"domain": [0, 3], "nice": false},
              "axis": {
                "values": [0, 0.5, 1, 1.5, 2, 2.5, 3],
                "format": ".1f",
                "labelExpr": "datum.value > 2.6 ? '' : datum.label",
                "title": ["P", "[HP]"], "titleAngle": 0, "titleX": -24, "titleY": 0,
                "titleAlign": "center", "titleBaseline": "top", "titleLineHeight": 17
              }
            }
          },
          "layer": [
            {"data": {"name": "pd"}, "mark": {"type": "area", "color": "#c4d3e2", "opacity": 0.8}, "encoding": {"y2": {"field": "P2"}}},
            {"data": {"name": "pl"}, "mark": {"type": "area", "color": "#eaf3fb", "opacity": 0.8}, "encoding": {"y2": {"field": "P2"}}},
            {"data": {"name": "p2"}, "transform": [{"filter": "datum.s != '100'"}], "mark": {"type": "line", "color": "#6580a6", "strokeWidth": 1.3, "interpolate": "monotone"}, "encoding": {"detail": {"field": "s"}}},
            {"data": {"name": "p2"}, "transform": [{"filter": "datum.s == '100'"}], "mark": {"type": "line", "color": "#6580a6", "strokeWidth": 1.3, "interpolate": "linear"}},
            {"data": {"name": "p1"}, "transform": [{"filter": "datum.p == 'a'"}], "mark": {"type": "line", "color": "#3b6697", "strokeWidth": 1.2, "interpolate": "monotone"}, "encoding": {"detail": {"field": "s"}}},
            {"data": {"name": "p1"}, "transform": [{"filter": "datum.p == 'b' && datum.s != '100'"}], "mark": {"type": "line", "color": "#0b4b8c", "strokeWidth": 2.4, "interpolate": "monotone"}, "encoding": {"detail": {"field": "s"}}},
            {"data": {"name": "p1"}, "transform": [{"filter": "datum.p == 'b' && datum.s == '100'"}], "mark": {"type": "line", "color": "#0b4b8c", "strokeWidth": 2.4, "interpolate": "linear"}},
            {"data": {"name": "plab"}, "mark": {"type": "text", "color": "#1f5f9e", "align": "left", "baseline": "middle", "fontSize": 16}, "encoding": {"text": {"field": "t"}}}
          ]
        },
        {
          "encoding": {
            "y": {
              "field": "N", "type": "quantitative",
              "scale": {"domain": [0, 60], "nice": false},
              "axis": {
                "orient": "right", "grid": false,
                "values": [0, 10, 20, 30, 40, 50],
                "title": ["NPSH", "[ft]"], "titleAngle": 0, "titleX": 28, "titleY": 0,
                "titleAlign": "center", "titleBaseline": "top", "titleLineHeight": 17
              }
            }
          },
          "layer": [
            {"data": {"name": "np"}, "transform": [{"filter": "datum.p == 'a'"}], "mark": {"type": "line", "color": "#222", "strokeWidth": 0.9, "interpolate": "monotone"}, "encoding": {"detail": {"field": "s"}}},
            {"data": {"name": "np"}, "transform": [{"filter": "datum.p == 'b'"}], "mark": {"type": "line", "color": "#000", "strokeWidth": 2.2, "interpolate": "monotone"}, "encoding": {"detail": {"field": "s"}}}
          ]
        }
      ],
      "resolve": {"scale": {"y": "independent"}, "axis": {"y": "independent"}}
    }
  ]
}
